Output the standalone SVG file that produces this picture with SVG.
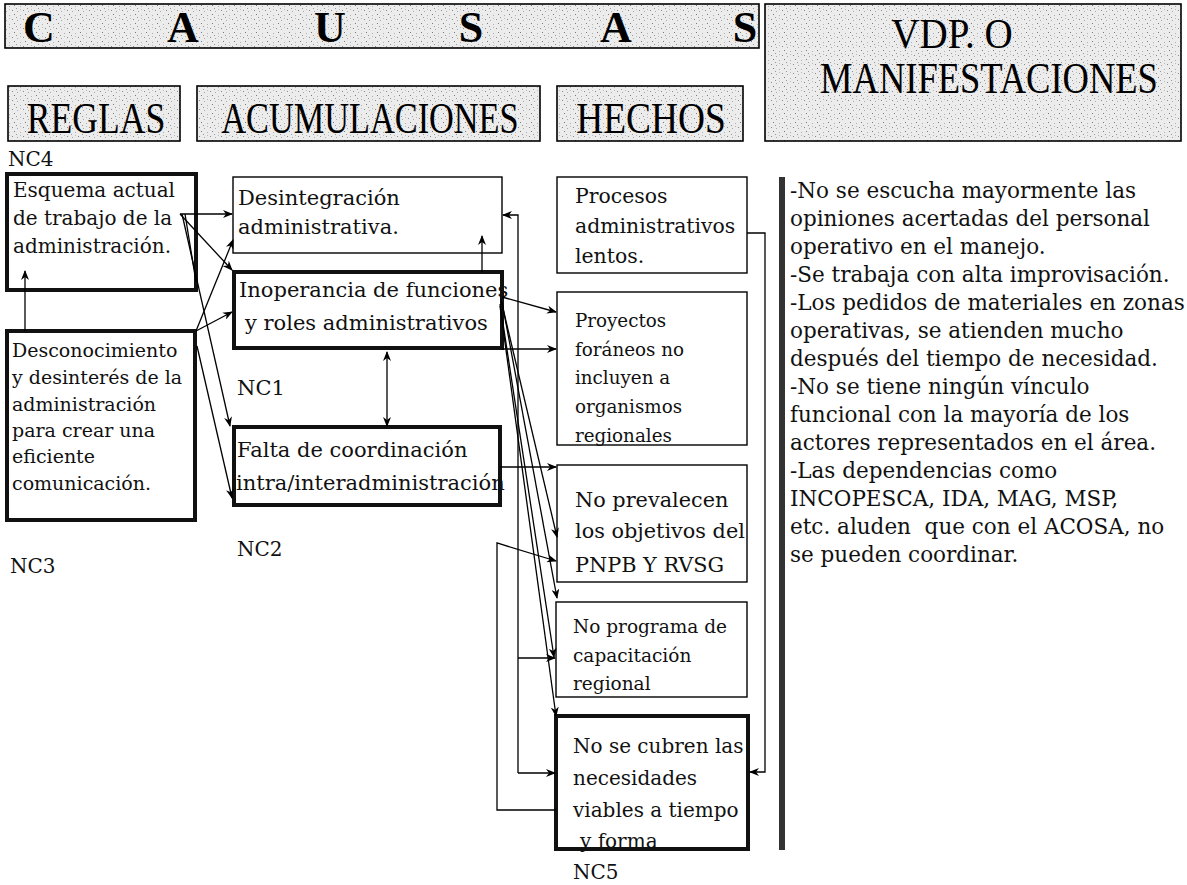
<svg xmlns="http://www.w3.org/2000/svg" width="1187" height="885" viewBox="0 0 1187 885">
<defs>
<pattern id="speck" width="11" height="9" patternUnits="userSpaceOnUse">
<rect width="11" height="9" fill="#ececec"/>
<rect x="1" y="1" width="1" height="1" fill="#8a8a8a"/>
<rect x="6" y="2" width="1" height="1" fill="#a8a8a8"/>
<rect x="3" y="5" width="1" height="1" fill="#7a7a7a"/>
<rect x="9" y="6" width="1" height="1" fill="#b0b0b0"/>
<rect x="5" y="8" width="1" height="1" fill="#999"/>
<rect x="9" y="0" width="1" height="1" fill="#bbb"/>
</pattern>
<marker id="ar" markerWidth="10" markerHeight="8" refX="9" refY="4" orient="auto" markerUnits="userSpaceOnUse">
<path d="M0,0 L10,4 L0,8 L3,4 Z" fill="#000"/>
</marker>
<marker id="as" markerWidth="10" markerHeight="8" refX="1" refY="4" orient="auto" markerUnits="userSpaceOnUse">
<path d="M10,0 L0,4 L10,8 L7,4 Z" fill="#000"/>
</marker>
</defs>
<style>
.hdr{fill:url(#speck);stroke:#000;stroke-width:1.6}
.box{fill:#fff;stroke:#000;stroke-width:1.4}
.thk{fill:#fff;stroke:#111;stroke-width:4}
.h{font-family:"Liberation Serif",serif;fill:#000;text-anchor:middle}
.hb{font-family:"Liberation Serif",serif;font-weight:bold;font-size:44px;fill:#000;text-anchor:middle}
.t{font-family:"DejaVu Serif",serif;fill:#111}
.c{fill:none;stroke:#000;stroke-width:1.3}
</style>
<rect x="0" y="0" width="1187" height="885" fill="#fff"/>

<g id="causas">
<rect class="hdr" x="5" y="4" width="754" height="44"/>
<text class="hb" x="39" y="42">C</text>
<text class="hb" x="183" y="42">A</text>
<text class="hb" x="330" y="42">U</text>
<text class="hb" x="471" y="42">S</text>
<text class="hb" x="616" y="42">A</text>
<text class="hb" x="745" y="42">S</text>
</g>
<g id="vdp">
<rect class="hdr" x="765" y="4" width="416" height="137"/>
<text class="h" transform="translate(952,48) scale(0.93,1)" font-size="42">VDP. O</text>
<text class="h" transform="translate(989,93) scale(0.83,1)" font-size="44">MANIFESTACIONES</text>
</g>
<g id="reglas">
<rect class="hdr" x="8" y="86" width="172" height="55"/>
<text class="h" transform="translate(96,133) scale(0.81,1)" font-size="44">REGLAS</text>
</g>
<g id="acumulaciones">
<rect class="hdr" x="197" y="86" width="343" height="55"/>
<text class="h" transform="translate(370,133) scale(0.78,1)" font-size="44">ACUMULACIONES</text>
</g>
<g id="hechos">
<rect class="hdr" x="557" y="86" width="186" height="55"/>
<text class="h" transform="translate(651,133) scale(0.85,1)" font-size="44">HECHOS</text>
</g>

<g id="esquema">
<text class="t" x="8" y="166" font-size="20">NC4</text>
<rect class="thk" x="7" y="174" width="189" height="116"/>
<text class="t" x="13" y="197" font-size="20">Esquema actual</text>
<text class="t" x="13" y="225" font-size="20">de trabajo de la</text>
<text class="t" x="13" y="253" font-size="20">administración.</text>
</g>
<g id="desconocimiento">
<rect class="thk" x="7" y="331" width="188" height="189"/>
<text class="t" x="12" y="357" font-size="19">Desconocimiento</text>
<text class="t" x="12" y="384" font-size="19">y desinterés de la</text>
<text class="t" x="12" y="411" font-size="19">administración</text>
<text class="t" x="12" y="437" font-size="19">para crear una</text>
<text class="t" x="12" y="463" font-size="19">eficiente</text>
<text class="t" x="12" y="490" font-size="19">comunicación.</text>
<text class="t" x="10" y="573" font-size="20">NC3</text>
</g>
<g id="desintegracion">
<rect class="box" x="233" y="177" width="269" height="76"/>
<text class="t" x="238" y="205" font-size="21">Desintegración</text>
<text class="t" x="238" y="234" font-size="21">administrativa.</text>
</g>
<g id="inoperancia">
<rect class="thk" x="234" y="272" width="268" height="76"/>
<text class="t" x="239" y="297" font-size="21">Inoperancia de funciones</text>
<text class="t" x="245" y="330" font-size="21">y roles administrativos</text>
<text class="t" x="237" y="395" font-size="21">NC1</text>
</g>
<g id="falta">
<rect class="thk" x="234" y="427" width="266" height="78"/>
<text class="t" x="237" y="457" font-size="21">Falta de coordinación</text>
<text class="t" x="236" y="490" font-size="21">intra/interadministración</text>
<text class="t" x="237" y="556" font-size="20">NC2</text>
</g>
<g id="procesos">
<rect class="box" x="557" y="177" width="190" height="96"/>
<text class="t" x="575" y="203" font-size="20.4">Procesos</text>
<text class="t" x="575" y="233" font-size="20.4">administrativos</text>
<text class="t" x="575" y="263" font-size="20.4">lentos.</text>
</g>
<g id="proyectos">
<rect class="box" x="557" y="292" width="190" height="153"/>
<text class="t" x="575" y="327" font-size="18.3">Proyectos</text>
<text class="t" x="575" y="356" font-size="18.3">foráneos no</text>
<text class="t" x="575" y="384" font-size="18.3">incluyen a</text>
<text class="t" x="575" y="413" font-size="18.3">organismos</text>
<text class="t" x="575" y="442" font-size="18.3">regionales</text>
</g>
<g id="prevalecen">
<rect class="box" x="557" y="465" width="190" height="117"/>
<text class="t" x="575" y="507" font-size="20.8">No prevalecen</text>
<text class="t" x="575" y="538" font-size="20.8">los objetivos del</text>
<text class="t" x="575" y="572" font-size="20.8">PNPB Y RVSG</text>
</g>
<g id="programa">
<rect class="box" x="556" y="602" width="191" height="95"/>
<text class="t" x="573" y="633" font-size="18.5">No programa de</text>
<text class="t" x="573" y="662" font-size="18.5">capacitación</text>
<text class="t" x="573" y="690" font-size="18.5">regional</text>
</g>
<g id="cubren">
<rect class="thk" x="556" y="716" width="192" height="133"/>
<text class="t" x="573" y="753" font-size="20">No se cubren las</text>
<text class="t" x="573" y="785" font-size="20">necesidades</text>
<text class="t" x="573" y="817" font-size="20">viables a tiempo</text>
<text class="t" x="580" y="848" font-size="20">y forma</text>
<text class="t" x="573" y="879" font-size="20">NC5</text>
</g>
<g id="manifestaciones">
<rect x="779" y="177" width="6" height="673" fill="#333"/>
<g class="t" font-size="21.5">
<text x="790" y="198">-No se escucha mayormente las</text>
<text x="790" y="226">opiniones acertadas del personal</text>
<text x="790" y="254">operativo en el manejo.</text>
<text x="790" y="282">-Se trabaja con alta improvisación.</text>
<text x="790" y="310">-Los pedidos de materiales en zonas</text>
<text x="790" y="338">operativas, se atienden mucho</text>
<text x="790" y="366">después del tiempo de necesidad.</text>
<text x="790" y="394">-No se tiene ningún vínculo</text>
<text x="790" y="422">funcional con la mayoría de los</text>
<text x="790" y="450">actores representados en el área.</text>
<text x="790" y="478">-Las dependencias como</text>
<text x="790" y="506">INCOPESCA, IDA, MAG, MSP,</text>
<text x="790" y="534" xml:space="preserve">etc. aluden  que con el ACOSA, no</text>
<text x="790" y="562">se pueden coordinar.</text>
</g>
</g>

<g id="connectors">
<path class="c" d="M25,331 V271" marker-end="url(#ar)"/>
<path class="c" d="M180,214 H232" marker-end="url(#ar)"/>
<path class="c" d="M180,214 L232,270" marker-end="url(#ar)"/>
<path class="c" d="M182,214 L230,426" marker-end="url(#ar)"/>
<path class="c" d="M185,214 L196,282"/>
<path class="c" d="M196,331 L233,240" marker-end="url(#ar)"/>
<path class="c" d="M196,331 L232,312" marker-end="url(#ar)"/>
<path class="c" d="M197,346 L232,498" marker-end="url(#ar)"/>
<path class="c" d="M387,426 V352" marker-start="url(#as)" marker-end="url(#ar)"/>
<path class="c" d="M482,272 V236" marker-end="url(#ar)"/>
<path class="c" d="M518,773 V215 H503" marker-end="url(#ar)"/>
<path class="c" d="M502,349 H556" marker-end="url(#ar)"/>
<path class="c" d="M518,658 H555" marker-end="url(#ar)"/>
<path class="c" d="M518,773 H555" marker-end="url(#ar)"/>
<path class="c" d="M502,297 L556,312" marker-end="url(#ar)"/>
<path class="c" d="M500,467 H556" marker-end="url(#ar)"/>
<path class="c" d="M501,300 L557,537" marker-end="url(#ar)"/>
<path class="c" d="M502,302 L557,598" marker-end="url(#ar)"/>
<path class="c" d="M500,304 L554,657" marker-end="url(#ar)"/>
<path class="c" d="M500,306 L556,716" marker-end="url(#ar)"/>
<path class="c" d="M556,810 H497 V543 L556,561" marker-end="url(#ar)"/>
<path class="c" d="M747,233 H765 V772 H750" marker-end="url(#ar)"/>
</g>
</svg>
